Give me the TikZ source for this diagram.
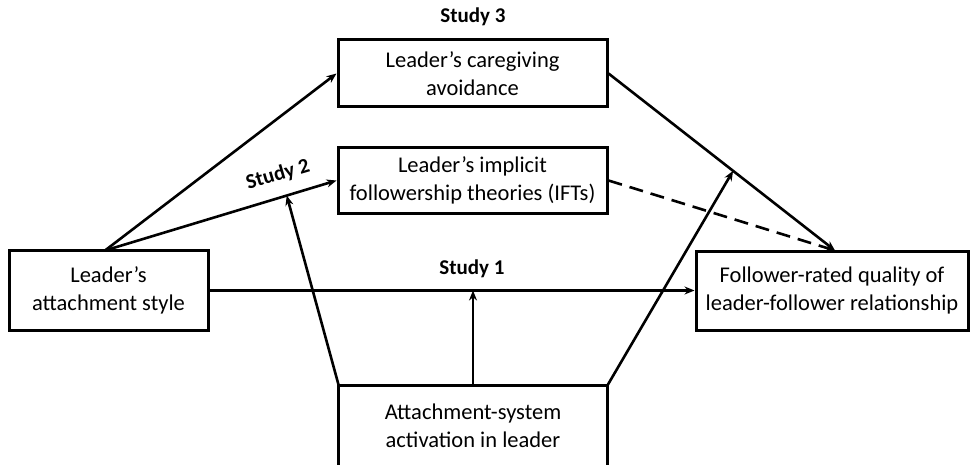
\documentclass[tikz,border=0pt]{standalone}
\usepackage{fontspec}
\setmainfont{Carlito}
\usetikzlibrary{arrows.meta,calc}
\begin{document}
\begin{tikzpicture}[x=1pt,y=-1pt,
  box/.style={draw,line width=3pt,align=center,inner sep=0pt,font=\fontsize{22.5}{28}\selectfont},
  conn/.style={line width=2.6pt,-{Stealth[length=10pt,width=8pt]}},
  lbl/.style={font=\bfseries\fontsize{21}{25}\selectfont}]
\useasboundingbox (0,0) rectangle (976,465);
\node[box,minimum width=199pt,minimum height=80pt] (att) at (108.5,290.5) {Leader’s\\attachment style};
\node[box,minimum width=269pt,minimum height=67pt] (care) at (472.5,73.5) {Leader’s caregiving\\avoidance};
\node[box,minimum width=269pt,minimum height=65pt] (ift) at (472.5,180.5) {Leader’s implicit\\followership theories (IFTs)};
\node[box,minimum width=272pt,minimum height=79pt] (out) at (832,290.5) {Follower-rated quality of\\leader-follower relationship};
\node[align=center,inner sep=0pt,font=\fontsize{22.5}{28}\selectfont,minimum width=268pt,minimum height=80pt] (act) at (473,426) {Attachment-system\\activation in leader};
\draw[line width=3pt] ([yshift=-20pt]act.south west) -- (act.north west) -- (act.north east) -- ([yshift=-20pt]act.south east);
\coordinate (attT) at (105,250.5);
\coordinate (outT) at (835,250.5);
\draw[conn] (attT) -- (care.west);
\draw[conn] (attT) -- (ift.west);
\draw[conn] (att.east) -- (out.west);
\draw[conn] (care.east) -- (outT);
\draw[conn,dash pattern=on 14pt off 8pt] (ift.east) -- (outT);
\coordinate (m1) at ($(att.east)!(act.north)!(out.west)$);
\draw[conn] (act.north) -- (m1);
\coordinate (m2) at ($(attT)!0.785!(ift.west)$);
\draw[conn] (act.north west) -- (m2);
\coordinate (m3) at ($(care.east)!0.55!(outT)$);
\draw[conn] (act.north east) -- (m3);
\node[lbl] (s3) at (473,17) {Study 3};
\node[lbl] (s1) at (472,269) {Study 1};
\node[lbl,rotate=16.5] (s2) at (278,175) {Study 2};
\end{tikzpicture}
\end{document}
